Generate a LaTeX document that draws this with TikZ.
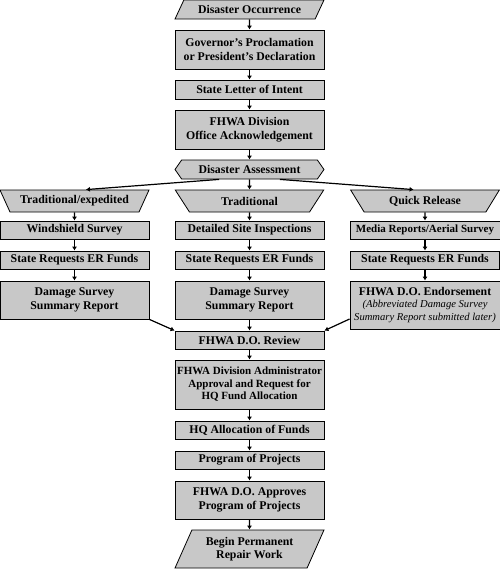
\documentclass[tikz,border=0pt]{standalone}
\usepackage{fontspec}
\setmainfont{Liberation Serif}
\usetikzlibrary{arrows.meta,shapes.geometric,shapes.symbols}
\definecolor{boxgray}{RGB}{200,200,200}

\begin{document}
\begin{tikzpicture}[
  x=1pt, y=-1pt,
  step box/.style={
    draw, fill=boxgray, line width=0.8pt,
    inner sep=1pt, align=center,
    minimum width=149pt,
    font=\bfseries\fontsize{11.8}{13.5}\selectfont
  },
  io box/.style={
    step box, trapezium, trapezium stretches=true
  },
  branch/.style={
    io box, trapezium left angle=56, trapezium right angle=56,
    shape border rotate=180, minimum height=22pt
  },
  flow/.style={
    -{Latex[length=4pt,width=5pt]}, line width=1.2pt
  }
]
  \useasboundingbox (0,0) rectangle (500,570);
  % main column
  \node[io box, trapezium left angle=55.6, trapezium right angle=124.4,
    minimum height=19pt] (occ) at (249.5,9.5){Disaster Occurrence};
  \node[step box, minimum height=39pt] (gov) at (249.5,49.5)
    {Governor's Proclamation\\or President's Declaration};
  \node[step box, minimum height=19pt] (loi) at (249.5,89.5){State Letter of Intent};
  \node[step box, minimum height=39pt] (ack) at (249.5,129.5)
    {FHWA Division\\Office Acknowledgement};
  \node[step box, signal, signal to=west and east, signal pointer angle=110,
    minimum height=19pt] (assess) at (249.5,169.5){Disaster Assessment};
  % three branches
  \node[branch] (br1) at (74.5,201){Traditional/expedited};
  \node[branch] (br2) at (249.5,201){Traditional};
  \node[branch, minimum width=150pt] (br3) at (425,201){Quick Release};
  \node[step box, minimum height=18pt] (svy1) at (74.5,230){Windshield Survey};
  \node[step box, minimum height=18pt] (svy2) at (249.5,230){Detailed Site Inspections};
  \node[step box, minimum height=18pt, minimum width=150pt,
    font=\bfseries\fontsize{11}{13}\selectfont] (svy3) at (425,230)
    {Media Reports/Aerial Survey};
  \foreach \x/\n in {74.5/1,249.5/2,425/3} {
    \node[step box, minimum height=18pt] (req\n) at (\x,260){State Requests ER Funds};
  }
  \node[step box, minimum height=38pt] (dmg1) at (74.5,300)
    {Damage Survey\\Summary Report};
  \node[step box, minimum height=38pt] (dmg2) at (249.5,300)
    {Damage Survey\\Summary Report};
  \node[step box, minimum height=48pt, minimum width=150pt] (endorse) at (425,305)
    {FHWA D.O. Endorsement\\[-1pt]
     {\mdseries\itshape\fontsize{10.6}{12.5}\selectfont (Abbreviated Damage Survey}\\[-1pt]
     {\mdseries\itshape\fontsize{10.6}{12.5}\selectfont Summary Report submitted later)}};
  % main column again
  \node[step box, minimum height=18pt] (review) at (249.5,340){FHWA D.O. Review};
  \node[step box, minimum height=49pt,
    font=\bfseries\fontsize{11}{12.5}\selectfont] (admin) at (249.5,384.5)
    {FHWA Division Administrator\\Approval and Request for\\HQ Fund Allocation};
  \node[step box, minimum height=18pt] (hq) at (249.5,430){HQ Allocation of Funds};
  \node[step box, minimum height=18pt] (pop) at (249.5,460){Program of Projects};
  \node[step box, minimum height=38pt] (appr) at (249.5,500)
    {FHWA D.O. Approves\\Program of Projects};
  \node[io box, trapezium left angle=63.4, trapezium right angle=116.6,
    minimum height=38pt] (work) at (249.5,549){Begin Permanent\\Repair Work};
  % connectors
  \foreach \a/\b in {occ/gov,gov/loi,loi/ack,ack/assess,assess/br2,
    br1/svy1,br2/svy2,br3/svy3,svy1/req1,svy2/req2,svy3/req3,
    req1/dmg1,req2/dmg2,req3/endorse,dmg2/review,review/admin,
    admin/hq,hq/pop,pop/appr,appr/work} {
    \draw[flow] (\a.south) -- (\b.north);
  }
  \draw[flow] (assess.198) -- (br1.north east);
  \draw[flow] (assess.342) -- (br3.north west);
  \draw[flow] (dmg1.south east) -- (review.north west);
  \draw[flow] ([yshift=-14pt]endorse.west) -- (review.north east);
\end{tikzpicture}
\end{document}
